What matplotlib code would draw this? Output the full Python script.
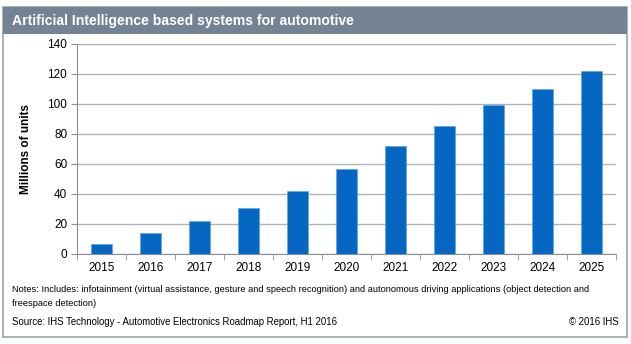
import matplotlib.pyplot as plt
from matplotlib.patches import Rectangle

plt.rcParams['font.family'] = ['Liberation Sans', 'DejaVu Sans']

years = ['2015', '2016', '2017', '2018', '2019', '2020', '2021', '2022', '2023', '2024', '2025']
units = [7.0, 13.7, 21.7, 30.6, 42.3, 57.0, 72.0, 85.6, 99.2, 109.8, 121.8]
yticks = [0, 20, 40, 60, 80, 100, 120, 140]

W, H = 631, 344
fig = plt.figure(figsize=(W / 100, H / 100), dpi=100)

# frame and title band
fig.patches.append(Rectangle((3 / W, 1 - 337 / H), 624 / W, 330 / H, transform=fig.transFigure,
                             facecolor='white', edgecolor='#9aa3ad', linewidth=1.2, zorder=0))
fig.patches.append(Rectangle((3 / W, 1 - 34 / H), 624 / W, 27 / H, transform=fig.transFigure,
                             facecolor='#748393', edgecolor='none', zorder=1))
fig.text(12 / W, 1 - 20.5 / H, 'Artificial Intelligence based systems for automotive',
         color='white', fontsize=10.1, fontweight='bold', va='center', ha='left')

ax = fig.add_axes([77 / W, 1 - 254 / H, 539 / W, 210 / H])
ax.set_zorder(3)
ax.patch.set_visible(False)
x = range(len(years))
ax.bar(x, units, width=0.41, color='#0667c3', edgecolor='#5aa6e6', linewidth=0.5, zorder=3)
ax.set_xlim(-0.5, len(years) - 0.5)
ax.set_ylim(0, 140)
ax.set_yticks(yticks)
ax.yaxis.grid(True, color='#adb3ba', linewidth=1.0, zorder=0)
ax.set_xticks(list(x))
ax.set_xticklabels(years)
ax.set_xticks([i - 0.5 for i in range(len(years) + 1)], minor=True)
ax.tick_params(axis='x', which='major', length=0, pad=6, labelsize=8.5)
ax.tick_params(axis='x', which='minor', length=4, direction='out', color='#8a9096')
ax.tick_params(axis='y', length=4, direction='out', color='#8a9096', labelsize=8.5, pad=3)
for side in ['top', 'right']:
    ax.spines[side].set_visible(False)
ax.spines['left'].set_color('#8a9096')
ax.spines['bottom'].set_color('#8a9096')
ax.set_ylabel('Millions of units', fontsize=8.5, fontweight='bold', labelpad=11)

fig.text(12 / W, 1 - 289 / H, 'Notes: Includes: infotainment (virtual assistance, gesture and speech recognition) '
         'and autonomous driving applications (object detection and', fontsize=6.65, va='center', ha='left')
fig.text(12 / W, 1 - 303 / H, 'freespace detection)', fontsize=6.65, va='center', ha='left')
fig.text(12 / W, 1 - 322 / H, 'Source: IHS Technology - Automotive Electronics Roadmap Report, H1 2016',
         fontsize=6.9, va='center', ha='left')
fig.text(619 / W, 1 - 322 / H, '\u00a9 2016 IHS', fontsize=6.9, va='center', ha='right')

fig.savefig('out.png', dpi=100)
